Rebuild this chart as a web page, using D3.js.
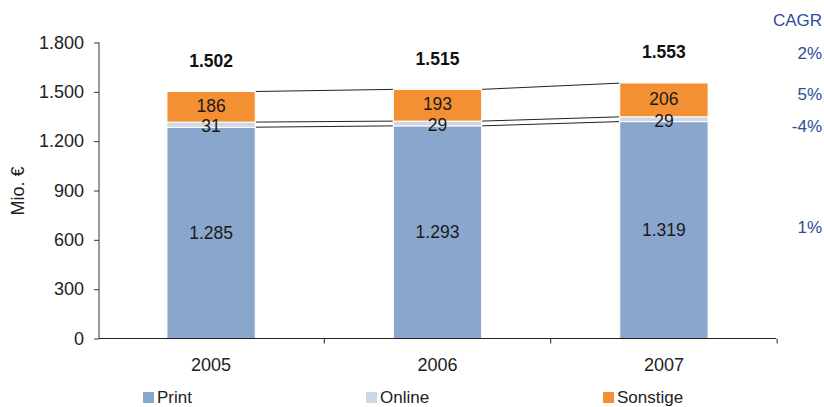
<!DOCTYPE html>
<html>
<head>
<meta charset="utf-8">
<script src="https://cdn.jsdelivr.net/npm/d3@7/dist/d3.min.js"></script>
<style>
  html, body { margin: 0; padding: 0; background: #fff; }
  svg { display: block; font-family: "Liberation Sans", Arial, sans-serif; }
</style>
</head>
<body>
<svg id="chart" width="824" height="407"></svg>
<script>
// Umsatz nach Segment, Mio. €
const years = ["2005", "2006", "2007"];
const print = [1285, 1293, 1319];
const online = [31, 29, 29];
const sonstige = [186, 193, 206];
const totals = [1502, 1515, 1553];
const seriesNames = ["Print", "Online", "Sonstige"];
const seriesColors = ["#8aa6cc", "#cdd7e5", "#f39034"];
const yTicks = [0, 300, 600, 900, 1200, 1500, 1800];
const cagrHeader = "CAGR";
const cagrLabels = ["2%", "5%", "-4%", "1%"]; // Gesamt, Sonstige, Online, Print

const fmt = d3.formatLocale({ decimal: ",", thousands: ".", grouping: [3], currency: ["", " €"] }).format(",d");
const FONT = "Liberation Sans, Arial, sans-serif";

const svg = d3.select("#chart");

const x = d3.scaleBand().domain(years).range([99, 776]).paddingInner(0.61).paddingOuter(0.3);
const y = d3.scaleLinear().domain([0, 1800]).range([338.5, 42.5]);

// stacked data
const rows = years.map((yr, i) => ({ year: yr, Print: print[i], Online: online[i], Sonstige: sonstige[i] }));
const stack = d3.stack().keys(seriesNames)(rows);

// connector lines between bars (top of Print, top of Online, total)
const levels = [
  years.map((_, i) => print[i]),
  years.map((_, i) => print[i] + online[i]),
  years.map((_, i) => totals[i])
];
const conn = svg.append("g");
levels.forEach(lv => {
  for (let i = 0; i < years.length - 1; i++) {
    conn.append("line")
      .attr("x1", x(years[i]) + x.bandwidth()).attr("y1", y(lv[i]))
      .attr("x2", x(years[i + 1])).attr("y2", y(lv[i + 1]))
      .attr("stroke", "#222").attr("stroke-width", 1);
  }
});

// bars
svg.append("g").selectAll("g").data(stack).join("g")
  .attr("fill", (d, i) => seriesColors[i])
  .selectAll("rect").data(d => d).join("rect")
  .attr("x", d => x(d.data.year))
  .attr("width", x.bandwidth())
  .attr("y", d => y(d[1]))
  .attr("height", d => y(d[0]) - y(d[1]))
  .attr("stroke", "#fff").attr("stroke-width", 1);

// segment labels (small offsets keep Online and Sonstige apart)
const labelShift = [0, 1.5, -1.5];
const segLabels = svg.append("g").attr("font-size", 17.5).attr("fill", "#1a1a1a").attr("text-anchor", "middle");
stack.forEach((s, si) => {
  s.forEach(d => {
    const yc = (y(d[0]) + y(d[1])) / 2 + labelShift[si];
    segLabels.append("text")
      .attr("x", x(d.data.year) + x.bandwidth() / 2)
      .attr("y", yc).attr("dy", "0.36em")
      .text(fmt(d[1] - d[0]));
  });
});

// totals
svg.append("g").selectAll("text").data(totals).join("text")
  .attr("x", (d, i) => x(years[i]) + x.bandwidth() / 2)
  .attr("y", d => y(d) - 31).attr("dy", "0.36em")
  .attr("text-anchor", "middle").attr("font-weight", "bold").attr("font-size", 17.5).attr("fill", "#111")
  .text(d => fmt(d));

// y axis
const yAxis = svg.append("g").attr("transform", "translate(99,0)")
  .call(d3.axisLeft(y).tickValues(yTicks).tickSize(5).tickFormat(fmt));
yAxis.select(".domain").attr("stroke", "#333").attr("d", `M0,${y(1800)}V${y(0)}`);
yAxis.selectAll(".tick line").attr("stroke", "#333");
yAxis.selectAll(".tick text").attr("font-size", 18).attr("fill", "#222")
  .attr("font-family", FONT).attr("x", -15);

// x axis
const xAxis = svg.append("g").attr("transform", `translate(0,${y(0)})`)
  .call(d3.axisBottom(x).tickSize(0).tickPadding(20));
xAxis.select(".domain").attr("stroke", "#222").attr("d", "M99,0H776");
xAxis.selectAll(".tick text").attr("font-size", 18).attr("fill", "#222").attr("font-family", FONT);
const step = x.step();
const bounds = years.map(yr => x(yr) + x.bandwidth() / 2 + step / 2);
xAxis.append("g").selectAll("line").data(bounds).join("line")
  .attr("x1", d => d).attr("x2", d => d).attr("y1", 0).attr("y2", 5).attr("stroke", "#222");

// y axis title
svg.append("text")
  .attr("transform", "translate(24,191) rotate(-90)")
  .attr("text-anchor", "middle").attr("font-size", 18).attr("fill", "#222")
  .text("Mio. €");

// CAGR column
const cagrColor = "#2d4a9b";
const cagrG = svg.append("g").attr("fill", cagrColor).attr("font-size", 17).attr("text-anchor", "end");
cagrG.append("text").attr("x", 822).attr("y", 20).attr("dy", "0.36em").text(cagrHeader);
const cagrY = [y(totals[0]) - 39, (y(totals[2]) + y(print[2] + online[2])) / 2 - 6,
               y(print[2] + online[2]) + 9, (y(0) + y(print[2])) / 2 - 3];
cagrG.selectAll(".c").data(cagrLabels).join("text").attr("class", "c")
  .attr("x", 822).attr("y", (d, i) => cagrY[i]).attr("dy", "0.36em").text(d => d);

// legend
const legX = [143, 366, 603];
const leg = svg.append("g");
seriesNames.forEach((n, i) => {
  leg.append("rect").attr("x", legX[i]).attr("y", 392).attr("width", 11).attr("height", 11).attr("fill", seriesColors[i]);
  leg.append("text").attr("x", legX[i] + 14).attr("y", 403).attr("font-size", 17).attr("fill", "#222").text(n);
});
</script>
</body>
</html>
